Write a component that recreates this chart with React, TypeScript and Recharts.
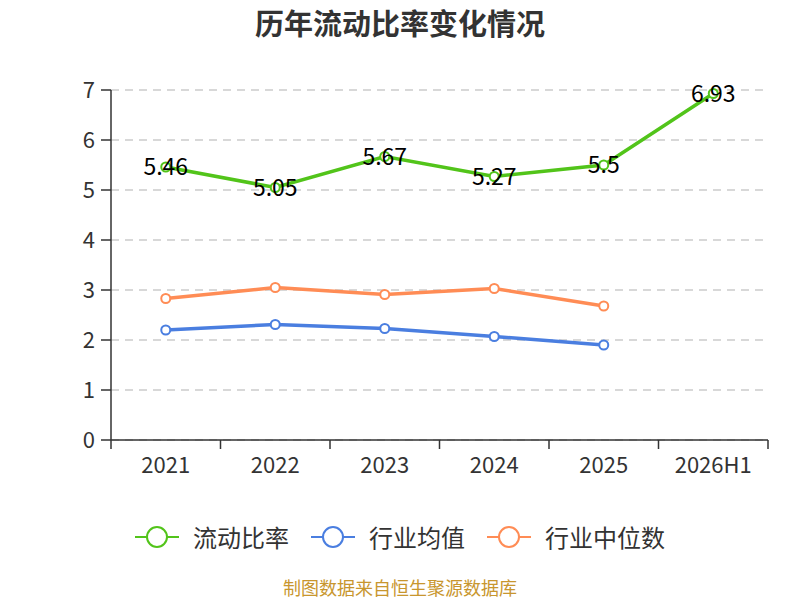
import React from 'react';
import { LineChart, Line, XAxis, YAxis, CartesianGrid, LabelList } from 'recharts';

const years = ['2021', '2022', '2023', '2024', '2025', '2026H1'];
const currentRatio = [5.46, 5.05, 5.67, 5.27, 5.5, 6.93];
const industryMean = [2.2, 2.31, 2.23, 2.07, 1.9, null];
const industryMedian = [2.83, 3.05, 2.91, 3.03, 2.68, null];
const yTicks = [0, 1, 2, 3, 4, 5, 6, 7];

const GREEN = '#52c41a';
const BLUE = '#4a7ee0';
const ORANGE = '#ff8c55';
const FONT = '"Noto Sans CJK SC", "Noto Sans", sans-serif';

const PLOT_LEFT = 111;
const PLOT_RIGHT = 768;
const BAND = (PLOT_RIGHT - PLOT_LEFT) / years.length;

const data = years.map((year, i) => ({
  year,
  ratio: currentRatio[i],
  mean: industryMean[i],
  median: industryMedian[i],
}));

const legendItems = [
  { name: '流动比率', color: GREEN },
  { name: '行业均值', color: BLUE },
  { name: '行业中位数', color: ORANGE },
];

const XTick = ({ x, y, payload, index }: any) => {
  const left = x - BAND / 2;
  return (
    <g>
      <line x1={left} x2={left} y1={y} y2={y + 9} stroke="#333" strokeWidth={1.5} />
      {index === years.length - 1 && (
        <line x1={left + BAND} x2={left + BAND} y1={y} y2={y + 9} stroke="#333" strokeWidth={1.5} />
      )}
      <text x={x} y={y + 33} textAnchor="middle" fontSize={22} fill="#333" fontFamily={FONT}>
        {payload.value}
      </text>
    </g>
  );
};

const PointLabel = ({ x, y, value }: any) => (
  <text x={x} y={y + 8} textAnchor="middle" fontSize={23} fill="#000" fontFamily={FONT}>
    {value}
  </text>
);

export default function App() {
  return (
    <div style={{ position: 'absolute', top: 0, left: 0, width: 800, height: 600, background: '#fff', fontFamily: FONT, overflow: 'hidden' }}>
      <div style={{ position: 'absolute', top: 5, left: 0, width: 800, textAlign: 'center', fontSize: 29, lineHeight: '34px', fontWeight: 'bold', color: '#333' }}>
        历年流动比率变化情况
      </div>
      <LineChart
        width={800}
        height={600}
        data={data}
        margin={{ top: 90, right: 32, left: 51, bottom: 120 }}
        style={{ position: 'absolute', top: 0, left: 0 }}
      >
        <CartesianGrid vertical={false} stroke="#ccc" strokeDasharray="8 6" strokeWidth={1.5} />
        <XAxis
          dataKey="year"
          scale="band"
          height={40}
          tickLine={false}
          tickSize={0}
          tickMargin={0}
          axisLine={{ stroke: '#333', strokeWidth: 1.5 }}
          tick={<XTick />}
          interval={0}
        />
        <YAxis
          width={60}
          domain={[0, 7]}
          ticks={yTicks}
          tickSize={10}
          tickMargin={6}
          axisLine={{ stroke: '#333', strokeWidth: 1.5 }}
          tickLine={{ stroke: '#333', strokeWidth: 1.5 }}
          tick={{ fontSize: 22, fill: '#333', fontFamily: FONT }}
          interval={0}
        />
        <Line
          dataKey="median"
          stroke={ORANGE}
          strokeWidth={3.5}
          dot={{ r: 4.5, fill: '#fff', stroke: ORANGE, strokeWidth: 2 }}
          isAnimationActive={false}
        />
        <Line
          dataKey="mean"
          stroke={BLUE}
          strokeWidth={3.5}
          dot={{ r: 4.5, fill: '#fff', stroke: BLUE, strokeWidth: 2 }}
          isAnimationActive={false}
        />
        <Line
          dataKey="ratio"
          stroke={GREEN}
          strokeWidth={3.5}
          dot={{ r: 4.5, fill: '#fff', stroke: GREEN, strokeWidth: 2 }}
          isAnimationActive={false}
        >
          <LabelList dataKey="ratio" content={<PointLabel />} />
        </Line>
      </LineChart>
      <div style={{ position: 'absolute', top: 522, left: 0, width: 800, display: 'flex', justifyContent: 'center', gap: 22, fontSize: 24, lineHeight: '30px', color: '#333' }}>
        {legendItems.map((item) => (
          <div key={item.name} style={{ display: 'flex', alignItems: 'center', gap: 14 }}>
            <svg width={44} height={24}>
              <line x1={0} x2={44} y1={12} y2={12} stroke={item.color} strokeWidth={2} />
              <circle cx={22} cy={12} r={10} fill="#fff" stroke={item.color} strokeWidth={2} />
            </svg>
            <span>{item.name}</span>
          </div>
        ))}
      </div>
      <div style={{ position: 'absolute', top: 575, left: 0, width: 800, textAlign: 'center', fontSize: 18, lineHeight: '24px', color: '#c8962e' }}>
        制图数据来自恒生聚源数据库
      </div>
    </div>
  );
}
